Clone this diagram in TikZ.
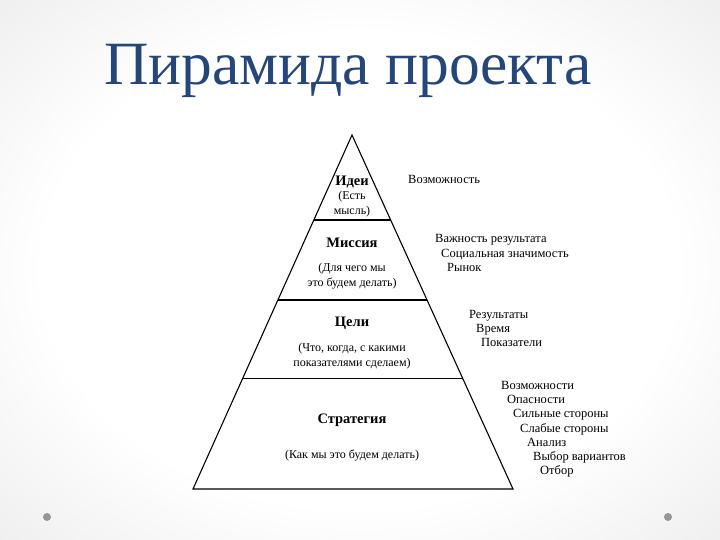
\documentclass[tikz,border=0pt]{standalone}
\usepackage{fontspec}
\setmainfont{Liberation Serif}
\usetikzlibrary{positioning,calc}
\definecolor{titleblue}{RGB}{36,70,120}
\definecolor{slidegray}{RGB}{222,222,222}
\definecolor{cornergray}{RGB}{206,206,206}
\definecolor{dotgray}{RGB}{150,150,150}
\pgfdeclareradialshading{slideglow}{\pgfpoint{0bp}{0bp}}{color(0bp)=(white); color(22bp)=(white); color(50bp)=(slidegray); color(71bp)=(cornergray)}
\tikzset{
  layer/.style={font=\fontsize{14.5}{16}\selectfont\bfseries, inner sep=0pt},
  layersub/.style={font=\fontsize{12}{15}\selectfont, align=center, inner sep=0pt},
  item/.style={font=\fontsize{12.5}{14}\selectfont, inner sep=0pt, text height=8.5pt, text depth=2.5pt}
}

\begin{document}
\begin{tikzpicture}[x=1pt,y=-1pt]
\useasboundingbox (0,0) rectangle (720,540);
\shade[shading=slideglow] (0,0) rectangle (720,540);
\fill[dotgray] (47,517) circle (4);
\fill[dotgray] (668,517) circle (4);
\node[text=titleblue,font=\fontsize{61.5}{64}\selectfont,anchor=base,inner sep=0pt] (title) at (348,85) {Пирамида проекта};
% pyramid
\coordinate (top) at (352,135);
\coordinate (baseL) at (193,489);
\coordinate (baseR) at (513,489);
\fill[white,draw=black,line width=1.1pt,line join=miter] (top) -- (baseR) -- (baseL) -- cycle;
\draw[line width=1.1pt] ($(top)!0.240!(baseL)$) -- ($(top)!0.240!(baseR)$);
\draw[line width=1.1pt] ($(top)!0.466!(baseL)$) -- ($(top)!0.466!(baseR)$);
\draw[line width=1.1pt] ($(top)!0.689!(baseL)$) -- ($(top)!0.689!(baseR)$);
% layers
\node[layer] (idea) at (352,182) {Идеи};
\node[layersub] (ideasub) at (352,204) {(Есть\\мысль)};
\node[layer] (mission) at (352,243) {Миссия};
\node[layersub] (missionsub) at (352,276) {(Для чего мы\\это будем делать)};
\node[layer] (goals) at (352,323) {Цели};
\node[layersub] (goalssub) at (352,356) {(Что, когда, с какими\\показателями сделаем)};
\node[layer] (strategy) at (352,420) {Стратегия};
\node[layersub] (strategysub) at (352,455) {(Как мы это будем делать)};
% notes on the right
\node[item,anchor=west] (chance) at (408,181) {Возможность};
\node[item,anchor=west] (weight) at (435,240) {Важность результата};
\node (social) [item, below=14pt of weight.west, anchor=west, xshift=6pt] {Социальная значимость};
\node (market) [item, below=14pt of social.west, anchor=west, xshift=6pt] {Рынок};
\node[item,anchor=west] (results) at (469,315) {Результаты};
\node (time) [item, below=14pt of results.west, anchor=west, xshift=7pt] {Время};
\node (measures) [item, below=14pt of time.west, anchor=west, xshift=5pt] {Показатели};
\node[item,anchor=west] (chances) at (501,386) {Возможности};
\node (threats) [item, below=14.5pt of chances.west, anchor=west, xshift=6pt] {Опасности};
\node (strong) [item, below=14pt of threats.west, anchor=west, xshift=6pt] {Сильные стороны};
\node (weak) [item, below=14.5pt of strong.west, anchor=west, xshift=7pt] {Слабые стороны};
\node (analysis) [item, below=14pt of weak.west, anchor=west, xshift=7pt] {Анализ};
\node (variants) [item, below=14pt of analysis.west, anchor=west, xshift=6pt] {Выбор вариантов};
\node (selection) [item, below=14pt of variants.west, anchor=west, xshift=7pt] {Отбор};
\end{tikzpicture}
\end{document}
